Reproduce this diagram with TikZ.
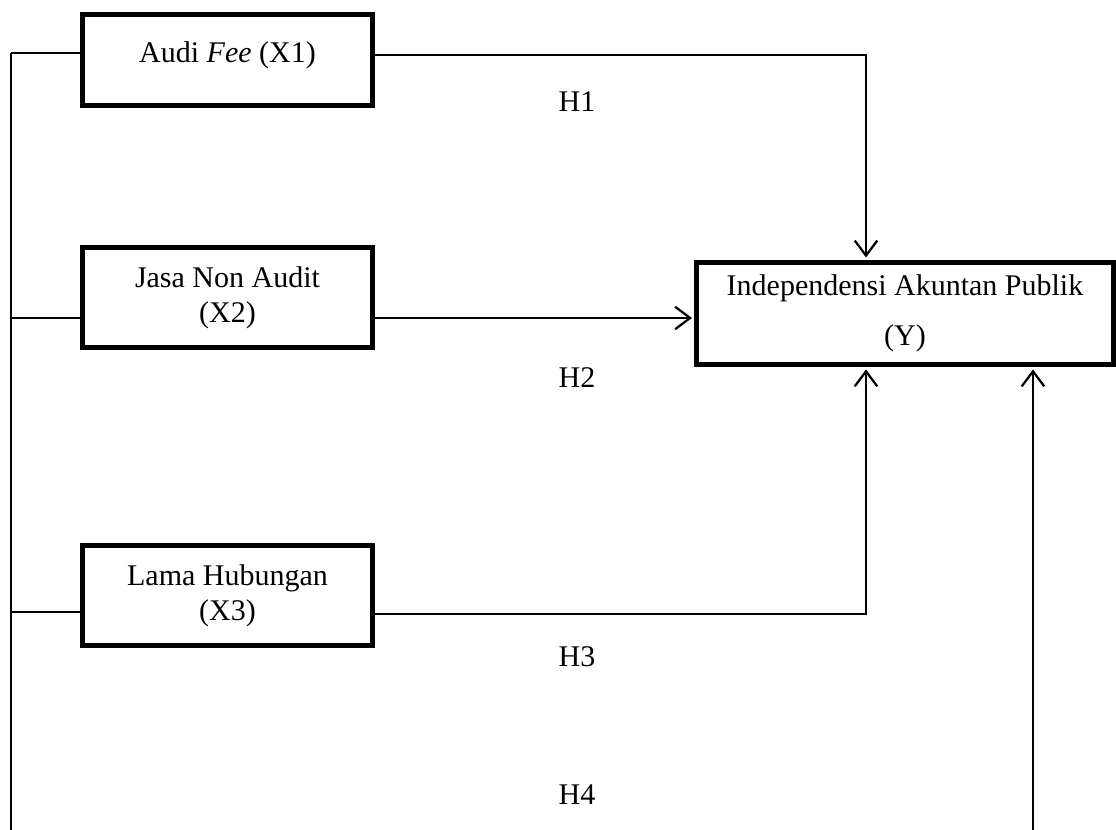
\documentclass[tikz,border=0pt,12pt]{standalone}
\usepackage{fontspec}
\setmainfont{Liberation Serif}
\usetikzlibrary{arrows.meta}
\tikzset{
	varbox/.style={draw, line width=2pt, minimum width=116pt, minimum height=40pt, align=center, inner sep=0pt, font=\fontsize{12}{14}\selectfont},
	link/.style={line width=0.6pt},
	arr/.style={link, -{Straight Barb[length=6pt,width=9pt,line width=0.9pt]}, shorten >=1pt},
	hlabel/.style={font=\fontsize{12}{14}\selectfont}
}

\begin{document}
\begin{tikzpicture}[x=0.4pt, y=-0.4pt]
		%%%%% START %%%%%
		\useasboundingbox (0, 0) rectangle (1116, 830);
		
		\node[varbox, minimum height=36.4pt, text height=9pt, text depth=6.6pt] (x1) at (227.5, 60) {Audi \textit{Fee} (X1)};
		\node[varbox] (x2) at (227.5, 297.5) {Jasa Non Audit\\(X2)};
		\node[varbox] (x3) at (227.5, 595.5) {Lama Hubungan\\(X3)};
		\node[varbox, minimum width=166.4pt, minimum height=40.8pt] (y) at (905, 313.5) {Independensi Akuntan Publik\\[6pt](Y)};
		
		\node[hlabel] (h1) at (577, 102) {H1};
		\node[hlabel] (h2) at (577, 378) {H2};
		\node[hlabel] (h3) at (577, 657) {H3};
		\node[hlabel] (h4) at (577, 795) {H4};
		
		\coordinate (s1) at (11, 53);
		\coordinate (s2) at (11, 318);
		\coordinate (s3) at (11, 612);
		\coordinate (s4) at (11, 830);
		\coordinate (k1) at (866, 55);
		\coordinate (k3) at (866, 614);
		\coordinate (k4) at (1033, 830);
		
		% left spine
		\draw[link] (s1) -- (s4);
		\draw[link] (s1) -- (s1 -| x1.west);
		\draw[link] (s2) -- (s2 -| x2.west);
		\draw[link] (s3) -- (s3 -| x3.west);
		
		% paths into Y
		\draw[arr] (k1 -| x1.east) -- (k1) -- (k1 |- y.north);
		\draw[arr] (s2 -| x2.east) -- (s2 -| y.west);
		\draw[arr] (k3 -| x3.east) -- (k3) -- (k3 |- y.south);
		\draw[arr] (k4) -- (k4 |- y.south);
		%%%%% END %%%%%
\end{tikzpicture}
\end{document}
